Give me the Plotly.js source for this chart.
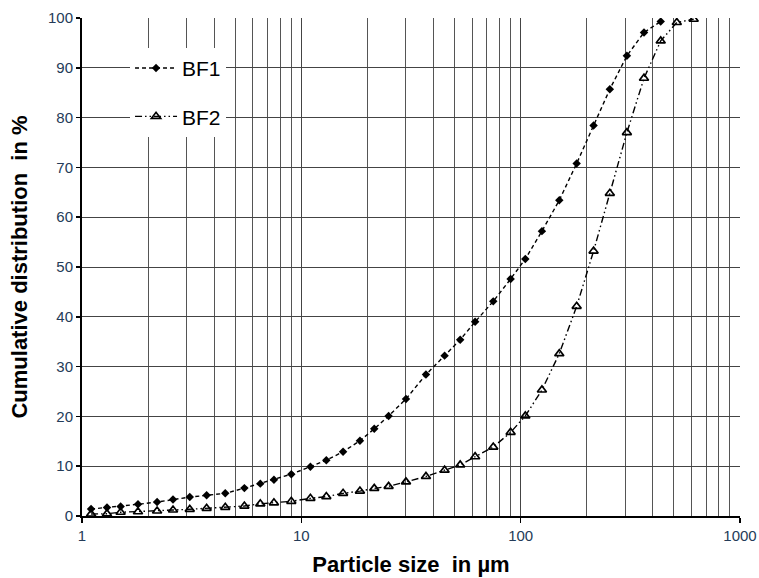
<!DOCTYPE html>
<html>
<head>
<meta charset="utf-8">
<script src="https://cdn.plot.ly/plotly-3.0.1.min.js"></script>
<style>html,body{margin:0;padding:0;background:#fff;}#chart{width:759px;height:578px;}</style>
</head>
<body>
<div id="chart"></div>
<script>
const particleSize = [1.1,1.3,1.5,1.8,2.2,2.6,3.1,3.7,4.5,5.5,6.5,7.5,9,11,13,15.5,18.5,21.5,25,30,37,45,53,62,75,90,105,125,150,180,215,255,305,365,435,515,615];
const bf1Values = [1.4,1.7,1.9,2.35,2.8,3.3,3.8,4.15,4.55,5.6,6.5,7.3,8.4,9.9,11.2,12.9,15.1,17.5,20.1,23.5,28.4,32.2,35.4,39.0,43.1,47.6,51.6,57.2,63.4,70.8,78.4,85.7,92.4,97.1,99.3];
const bf2Values = [0.4,0.45,0.75,0.85,1.0,1.2,1.35,1.55,1.75,2.0,2.45,2.65,2.95,3.55,3.9,4.55,5.0,5.55,5.95,6.85,7.95,9.2,10.25,11.9,13.85,16.8,20.1,25.3,32.6,42.1,53.2,64.8,77.0,87.9,95.4,99.1,99.75];
const seriesNames = ['BF1','BF2'];
const xTickVals = [1,10,100,1000];
const xTickText = ['1','10','100','1000'];
const yTickVals = [0,10,20,30,40,50,60,70,80,90,100];

const bf1 = {
  x: particleSize.slice(0, bf1Values.length), y: bf1Values, name: seriesNames[0],
  type: 'scatter', mode: 'lines+markers', legendgroup: 'a',
  line: {color: '#000', width: 1.4, dash: '4px,3px'},
  marker: {symbol: 'diamond', size: 6.5, color: '#000'}
};
const bf2 = {
  x: particleSize.slice(0, bf2Values.length), y: bf2Values, name: seriesNames[1],
  type: 'scatter', mode: 'lines+markers', legendgroup: 'b',
  line: {color: '#000', width: 1.4, dash: '7px,3px,1.5px,3px,1.5px,3px'},
  marker: {symbol: 'triangle-up-open', size: 8, color: '#000', line: {width: 1.7, color: '#000'}}
};

const fam = 'Liberation Sans, Arial, sans-serif';
const tickFont = {family: fam, size: 15, color: '#243b58'};
const layout = {
  width: 759, height: 578,
  margin: {l: 82, r: 19, t: 18, b: 62},
  paper_bgcolor: '#fff', plot_bgcolor: '#fff',
  showlegend: true,
  legend: {
    x: 0.073, y: 0.94, xanchor: 'left', yanchor: 'top',
    bgcolor: '#fff', borderwidth: 0,
    font: {family: fam, size: 21, color: '#000'},
    traceorder: 'grouped', tracegroupgap: 18, itemwidth: 42
  },
  xaxis: {
    type: 'log', range: [0, 3],
    tickvals: xTickVals, ticktext: xTickText,
    ticks: 'outside', ticklen: 5, tickwidth: 1.5, tickcolor: '#000',
    showline: true, linecolor: '#000', linewidth: 2,
    showgrid: true, gridcolor: '#444', gridwidth: 1,
    minor: {dtick: 'D1', showgrid: true, gridcolor: '#555', gridwidth: 1, ticks: ''},
    tickfont: tickFont, zeroline: false,
    title: {text: 'Particle size  in µm', standoff: 14,
      font: {family: fam, size: 22, color: '#000', weight: 'bold'}}
  },
  yaxis: {
    range: [0, 100], tickvals: yTickVals,
    ticks: 'outside', ticklen: 4, tickwidth: 1.5, tickcolor: '#000',
    showline: true, linecolor: '#000', linewidth: 2,
    showgrid: true, gridcolor: '#444', gridwidth: 1,
    tickfont: tickFont, zeroline: false,
    title: {text: 'Cumulative distribution  in %', standoff: 14,
      font: {family: fam, size: 22, color: '#000', weight: 'bold'}}
  }
};
Plotly.newPlot('chart', [bf1, bf2], layout, {displayModeBar: false, staticPlot: true});
</script>
</body>
</html>
